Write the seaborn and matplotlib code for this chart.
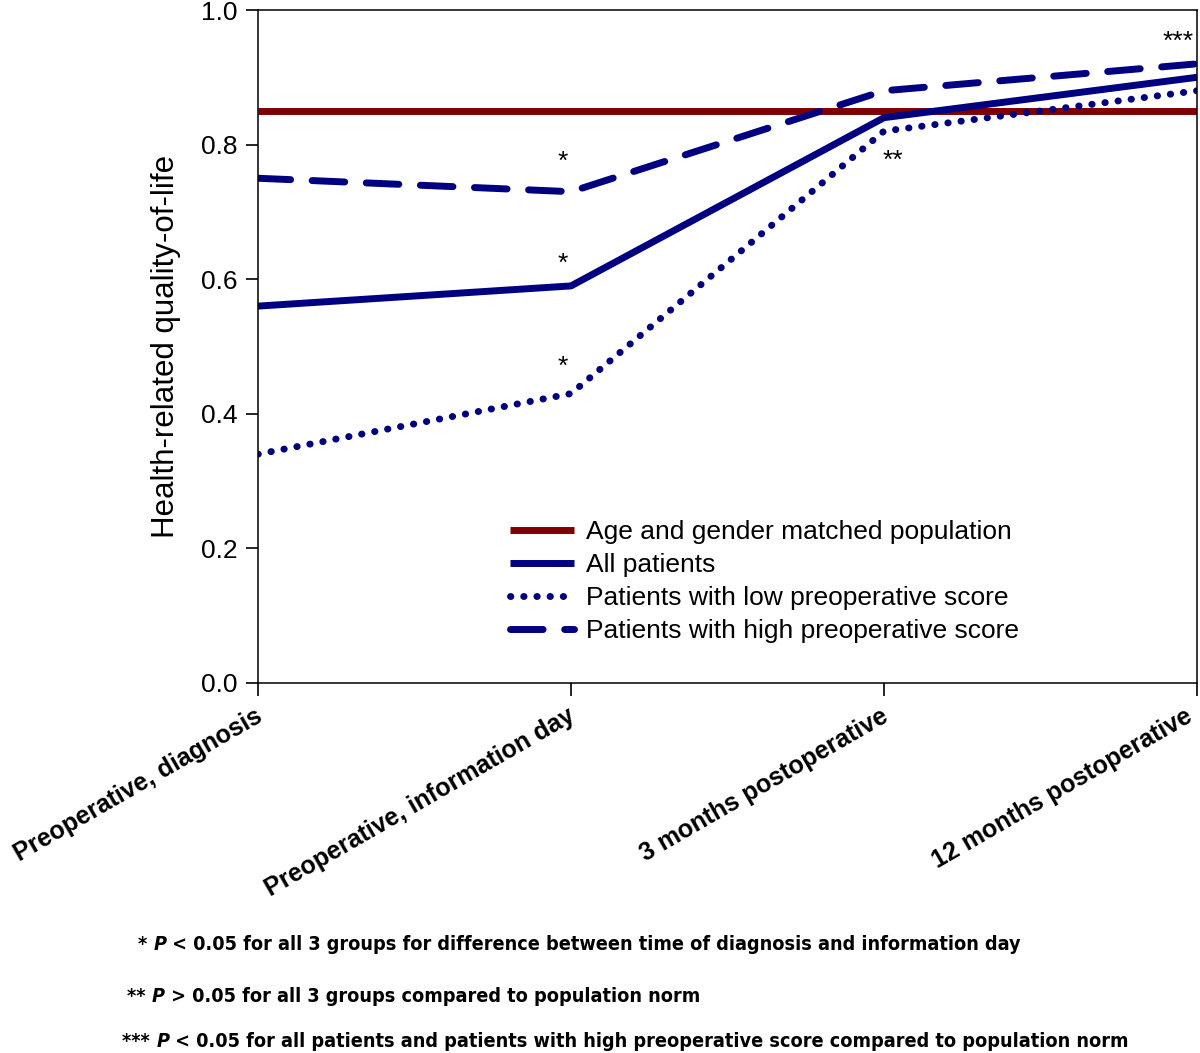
import matplotlib
matplotlib.use("Agg")
import matplotlib.pyplot as plt
from matplotlib import font_manager
from matplotlib.transforms import ScaledTranslation
import numpy as np
import pandas as pd
import seaborn as sns

sns.set_style("ticks")
plt.rcParams["font.family"] = ["Liberation Sans", "DejaVu Sans"]
plt.rcParams["text.color"] = "black"
plt.rcParams["axes.labelcolor"] = "black"
plt.rcParams["xtick.color"] = "black"
plt.rcParams["ytick.color"] = "black"

NAVY = "#000080"
DARK_RED = "#800000"

# data
timepoints = ["Preoperative, diagnosis", "Preoperative, information day",
              "3 months postoperative", "12 months postoperative"]
population = [0.85, 0.85, 0.85, 0.85]
all_patients = [0.56, 0.59, 0.84, 0.90]
low_preop = [0.34, 0.43, 0.82, 0.88]
high_preop = [0.75, 0.73, 0.88, 0.92]

series_names = ["Age and gender matched population", "All patients",
                "Patients with low preoperative score", "Patients with high preoperative score"]

footnotes = [
    ("*", " < 0.05 for all 3 groups for difference between time of diagnosis and information day"),
    ("**", " > 0.05 for all 3 groups compared to population norm"),
    ("***", " < 0.05 for all patients and patients with high preoperative score compared to population norm"),
]


def narrow_fonts():
    """Condensed bold upright + italic faces if installed, else plain Liberation bold."""
    for fam in ["Liberation Sans Narrow", "DejaVu Sans"]:
        try:
            up = font_manager.findfont(font_manager.FontProperties(
                family=fam, weight="bold", stretch="condensed"), fallback_to_default=False)
            it = font_manager.findfont(font_manager.FontProperties(
                family=fam, weight="bold", stretch="condensed", style="italic"), fallback_to_default=False)
        except Exception:
            continue
        if "Narrow" in up or "Condensed" in up:
            return (font_manager.FontProperties(fname=up),
                    font_manager.FontProperties(fname=it), True)
    up = font_manager.FontProperties(family="Liberation Sans", weight="bold")
    it = font_manager.FontProperties(family="Liberation Sans", weight="bold", style="italic")
    return up, it, False


fig = plt.figure(figsize=(12, 10.53), dpi=100)
ax = fig.add_axes([0.215, 0.3514, 0.7825, 0.6391])

x = np.arange(len(timepoints))
styles = [
    (DARK_RED, None),
    (NAVY, None),
    (NAVY, (0.05, 1.85)),
    (NAVY, (4.7, 3.1)),
]
for name, vals, (col, dash) in zip(series_names, [population, all_patients, low_preop, high_preop], styles):
    df = pd.DataFrame({"x": x, "y": vals})
    sns.lineplot(data=df, x="x", y="y", ax=ax, color=col, linewidth=5, label=name)
    line = ax.lines[-1]
    if dash is not None:
        line.set_dashes(dash)
        line.set_dash_capstyle("round")
    line.set_solid_capstyle("butt")

ax.set_xlim(0, 3)
ax.set_ylim(0, 1.0)
yt = np.arange(0, 1.01, 0.2)
ax.set_yticks(yt)
ax.set_yticklabels([f"{v:.1f}" for v in yt], fontsize=19)
ax.set_xticks(x)
ax.set_xticklabels(timepoints, rotation=30, ha="right", rotation_mode="anchor",
                   fontsize=18, fontweight="bold")
ax.tick_params(axis="both", direction="out", length=9, width=1.2, colors="black", pad=6)
# nudge rotated labels a little left so the last one stays inside the figure
labels = ax.get_xticklabels()
for i, lab in enumerate(labels):
    dx = -13 if i == len(labels) - 1 else -4
    lab.set_transform(lab.get_transform() + ScaledTranslation(dx / 100, 0, fig.dpi_scale_trans))
ax.set_xlabel("")
ax.set_ylabel("Health-related quality-of-life", fontsize=22.5, labelpad=14)
for sp in ax.spines.values():
    sp.set_visible(True)
    sp.set_color("black")
    sp.set_linewidth(1.1)

leg = ax.legend(loc="upper left", bbox_to_anchor=(0.268, 0.242), frameon=False,
                fontsize=19, handlelength=2.45, handletextpad=0.45, labelspacing=0.34,
                borderpad=0, borderaxespad=0)

# significance markers
star_kw = dict(fontsize=19, ha="center", va="center")
ax.text(0.975, 0.775, "*", **star_kw)
ax.text(0.975, 0.623, "*", **star_kw)
ax.text(0.975, 0.47, "*", **star_kw)
ax.text(2.03, 0.776, "**", **star_kw)
ax.text(2.94, 0.953, "***", **star_kw)

# footnotes with italic P
fp_up, fp_it, is_narrow = narrow_fonts()
fsize = 14.2 if is_narrow else 13.4
fp_up.set_size(fsize)
fp_it.set_size(fsize)
foot_pos = [(0.115, 0.1035), (0.106, 0.054), (0.102, 0.0105)]
for (stars, rest), (fx, fy) in zip(footnotes, foot_pos):
    t1 = fig.text(fx, fy, stars + " ", fontproperties=fp_up, va="center")
    t2 = ax.annotate("P", xy=(1, 0), xycoords=t1, va="bottom", fontproperties=fp_it,
                     annotation_clip=False)
    ax.annotate(rest, xy=(1, 0), xycoords=t2, va="bottom", fontproperties=fp_up,
                annotation_clip=False)

fig.savefig("out.png", dpi=100)
